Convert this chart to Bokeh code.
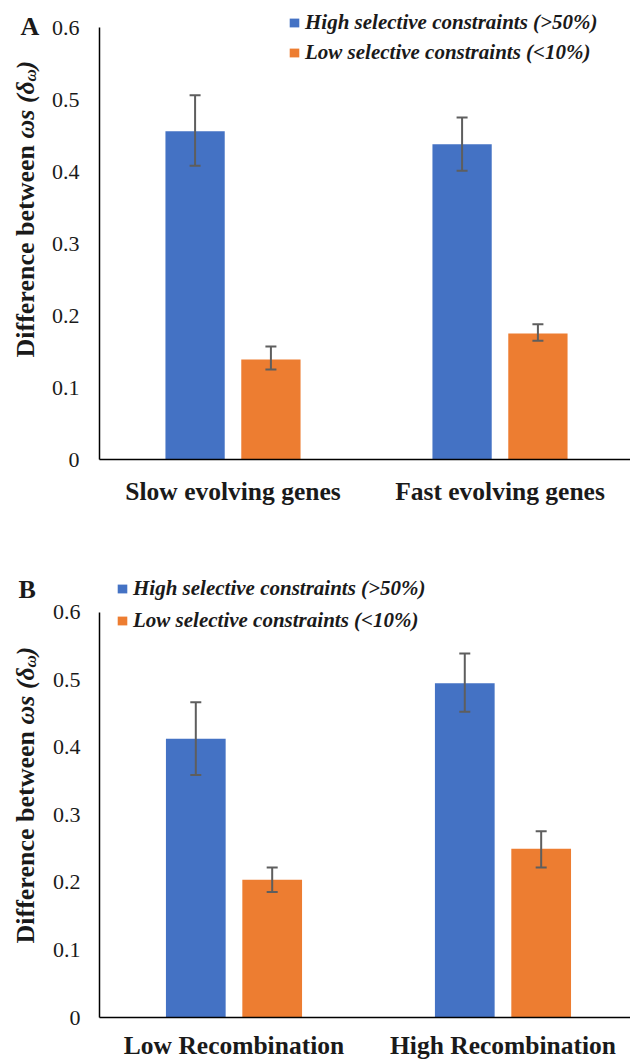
import math
import numpy as np
from bokeh.plotting import figure
from bokeh.models import (Range1d, FixedTicker, Whisker, ColumnDataSource, Legend,
                          LegendItem, TeeHead)
from bokeh.core.properties import value
from bokeh.layouts import column, row
from bokeh.embed import file_html
from bokeh.resources import INLINE

# ---------------- data ----------------
series_names = ["High selective constraints (>50%)", "Low selective constraints (<10%)"]
colors = ["#4472C4", "#ED7D31"]

cats_A = ["Slow evolving genes", "Fast evolving genes"]
high_A = [0.456, 0.438]
high_A_lo = [0.408, 0.401]
high_A_hi = [0.506, 0.475]
low_A = [0.139, 0.175]
low_A_lo = [0.125, 0.165]
low_A_hi = [0.157, 0.188]

cats_B = ["Low Recombination", "High Recombination"]
high_B = [0.413, 0.495]
high_B_lo = [0.359, 0.453]
high_B_hi = [0.467, 0.539]
low_B = [0.204, 0.250]
low_B_lo = [0.186, 0.222]
low_B_hi = [0.222, 0.276]

y_ticks = [0, 0.1, 0.2, 0.3, 0.4, 0.5, 0.6]
y_tick_labels = ["0", "0.1", "0.2", "0.3", "0.4", "0.5", "0.6"]
title_pieces = ["Difference between ", "\u03c9s (\u03b4", "\u03c9", ")"]

SERIF = "Liberation Serif"
TXT = "#1a1a1a"
SIDE_W = 46
TOTAL_H = 1062


def panel(cats, series, height, left, top_px, zero_px, six_px, cat_px,
          leg_pos, leg_spacing, cat_standoff, tick_standoff):
    W = 630 - SIDE_W
    fw = W - left
    fh = zero_px - top_px
    ymax = 0.6 * fh / (zero_px - six_px)
    bottom = height - zero_px
    p = figure(width=W, height=height, output_backend="svg", toolbar_location=None,
               x_range=Range1d(0, fw / cat_px), y_range=Range1d(0, ymax),
               min_border_left=left, min_border_right=0, min_border_top=top_px,
               min_border_bottom=bottom)
    p.outline_line_color = None
    p.xgrid.visible = False
    p.ygrid.visible = False

    xs = np.arange(len(cats)) + 0.5
    dodge = [-0.142, 0.142]
    items = []
    for (vals, lo, hi), off, col, name in zip(series, dodge, colors, series_names):
        src = ColumnDataSource(dict(x=xs + off, top=vals, lower=lo, upper=hi))
        r = p.vbar(x="x", top="top", bottom=0, width=0.222, source=src,
                   fill_color=col, line_color=None)
        w = Whisker(base="x", upper="upper", lower="lower", source=src,
                    line_color="#5e5e5e", line_width=2, level="overlay",
                    upper_head=TeeHead(size=11, line_color="#5e5e5e", line_width=2),
                    lower_head=TeeHead(size=11, line_color="#5e5e5e", line_width=2))
        p.add_layout(w)
        items.append(LegendItem(label=name, renderers=[r]))

    p.yaxis.ticker = FixedTicker(ticks=y_ticks)
    p.yaxis.bounds = (0, 0.6)
    p.yaxis.major_label_overrides = dict(zip(y_ticks, y_tick_labels))
    p.yaxis.major_tick_line_color = None
    p.yaxis.minor_tick_line_color = None
    p.yaxis.axis_line_color = "black"
    p.yaxis.axis_line_width = 1.5
    p.yaxis.major_label_text_font = SERIF
    p.yaxis.major_label_text_font_size = "22px"
    p.yaxis.major_label_text_color = TXT
    p.yaxis.major_label_standoff = tick_standoff

    p.xaxis.ticker = FixedTicker(ticks=list(xs))
    p.xaxis.major_label_overrides = {float(x): c for x, c in zip(xs, cats)}
    p.xaxis.major_tick_line_color = None
    p.xaxis.minor_tick_line_color = None
    p.xaxis.axis_line_color = "black"
    p.xaxis.axis_line_width = 1.5
    p.xaxis.major_label_text_font = SERIF
    p.xaxis.major_label_text_font_style = "bold"
    p.xaxis.major_label_text_font_size = "25.5px"
    p.xaxis.major_label_text_color = TXT
    p.xaxis.major_label_standoff = cat_standoff

    leg = Legend(items=items, location=leg_pos, orientation="vertical",
                 glyph_width=12, glyph_height=11, label_standoff=5,
                 spacing=leg_spacing, padding=0, margin=0,
                 border_line_color=None, background_fill_alpha=0,
                 label_text_font=SERIF, label_text_font_style="bold italic",
                 label_text_font_size="21px", label_text_color=TXT,
                 label_height=20)
    p.add_layout(leg)
    return p


# panel A: canvas rows 0..530 ; frame top 8, zero at 459, 0.6 at 27
pA = panel(cats_A, [(high_A, high_A_lo, high_A_hi), (low_A, low_A_lo, low_A_hi)],
           height=530, left=99 - SIDE_W, top_px=8, zero_px=459, six_px=27, cat_px=267,
           leg_pos=(189, 394), leg_spacing=5, cat_standoff=11, tick_standoff=14)
# panel B: canvas rows 530..1062 ; zero at 1018, 0.6 at 612
pB = panel(cats_B, [(high_B, high_B_lo, high_B_hi), (low_B, low_B_lo, low_B_hi)],
           height=532, left=97 - SIDE_W, top_px=40, zero_px=1018 - 530, six_px=612 - 530,
           cat_px=270, leg_pos=(17, 384), leg_spacing=7, cat_standoff=7, tick_standoff=13)

# side strip holding panel letters and the rotated y-axis titles
side = figure(width=SIDE_W, height=TOTAL_H, output_backend="svg", toolbar_location=None,
              x_range=Range1d(0, SIDE_W), y_range=Range1d(0, TOTAL_H),
              x_axis_type=None, y_axis_type=None, min_border=0)
side.outline_line_color = None
side.xgrid.visible = False
side.ygrid.visible = False

for letter, lx, ly in [("A", 20, 26), ("B", 18, 589)]:
    side.text(x=[lx], y=[TOTAL_H - ly], text=[letter], text_font=value(SERIF),
              text_font_style="bold", text_font_size="26px", text_color=TXT,
              text_align="left", text_baseline="middle")

styles = [("bold", 26, 0, 219), ("bold italic", 26, 0, 57),
          ("bold italic", 17, 5, 12), ("bold italic", 26, 0, 9)]
for start in [357, 943]:
    sy = start
    for txt, (style, fs, shift, wpx) in zip(title_pieces, styles):
        side.text(x=[25 + shift], y=[TOTAL_H - sy], text=[txt], angle=math.pi / 2,
                  text_font=value(SERIF), text_font_style=style,
                  text_font_size=f"{fs}px", text_color=TXT,
                  text_align="left", text_baseline="middle")
        sy -= wpx

layout = row(side, column(pA, pB))
open("out.html", "w").write(file_html(layout, INLINE))
